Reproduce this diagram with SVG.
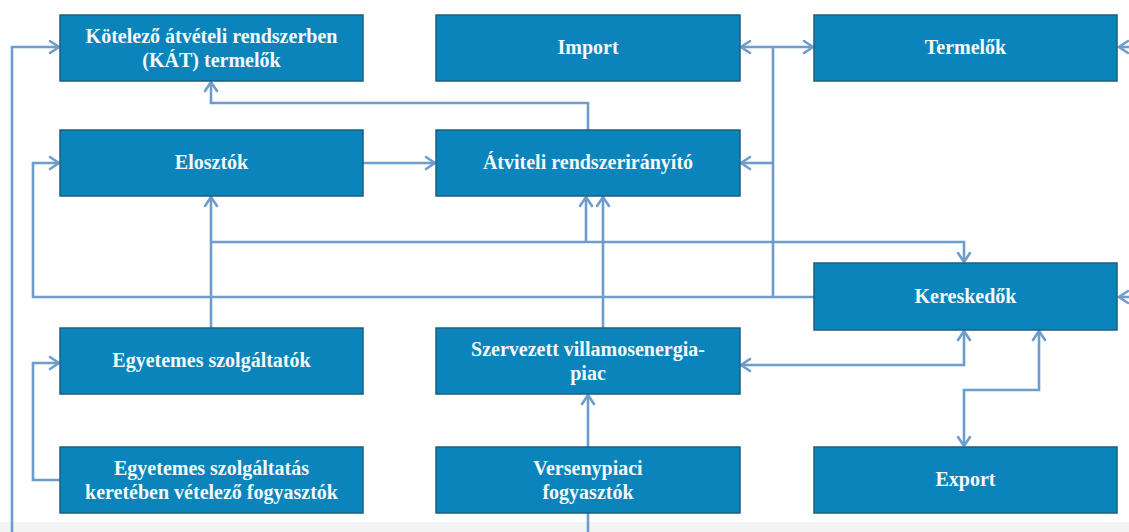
<svg xmlns="http://www.w3.org/2000/svg" width="1129" height="532" viewBox="0 0 1129 532">
<defs>
<marker id="ah" markerUnits="userSpaceOnUse" markerWidth="14" markerHeight="16" viewBox="-1 -1 14 16" refX="10" refY="7" orient="auto-start-reverse">
<path d="M1,1 L10,7 L1,13" fill="none" stroke="#6e9ccb" stroke-width="2.6" stroke-linecap="round" stroke-linejoin="miter"/>
</marker>
<style>
.box{fill:#0a84bb;stroke:#1d5e80;stroke-width:1.5}
.t{font-family:"Liberation Serif","DejaVu Serif",serif;font-weight:bold;font-size:20px;fill:#f4f8fb;text-anchor:middle}
.c{fill:none;stroke:#6e9ccb;stroke-width:2.6}
.a{marker-end:url(#ah)}
.b{marker-start:url(#ah);marker-end:url(#ah)}
</style>
</defs>
<rect x="0" y="0" width="1129" height="532" fill="#ffffff"/>
<rect x="0" y="522" width="1129" height="10" fill="#f4f4f4"/>
<g id="connectors">
<path class="c a" d="M12,532 V47 H59"/>
<path class="c a" d="M814,297 H33 V163 H59"/>
<path class="c a" d="M588,130 V103 H211 V82"/>
<path class="c a" d="M363,163 H435"/>
<path class="c a" d="M211,328 V197"/>
<path class="c a" d="M211,242 H964 V262"/>
<path class="c a" d="M586,242 V197"/>
<path class="c a" d="M603,328 V197"/>
<path class="c b" d="M741,47 H813"/>
<path class="c" d="M773,47 V297"/>
<path class="c a" d="M773,163 H741"/>
<path class="c a" d="M1129,47 H1119"/>
<path class="c a" d="M1129,297 H1119"/>
<path class="c b" d="M741,365 H964 V331"/>
<path class="c b" d="M1039,331 V390 H964 V446"/>
<path class="c a" d="M588,447 V395"/>
<path class="c" d="M588,513 V532"/>
<path class="c a" d="M60,480 H33 V363 H59"/>
</g>
<g id="kat"><rect class="box" x="60" y="15" width="303" height="66"/><text class="t" x="211.5" y="43">Kötelező átvételi rendszerben</text><text class="t" x="211.5" y="67">(KÁT) termelők</text></g>
<g id="import"><rect class="box" x="436" y="15" width="304" height="66"/><text class="t" x="588" y="54">Import</text></g>
<g id="termelok"><rect class="box" x="814" y="15" width="303" height="66"/><text class="t" x="965.5" y="54">Termelők</text></g>
<g id="elosztok"><rect class="box" x="60" y="130" width="303" height="66"/><text class="t" x="211.5" y="169">Elosztók</text></g>
<g id="atviteli"><rect class="box" x="436" y="130" width="304" height="66"/><text class="t" x="588" y="169">Átviteli rendszerirányító</text></g>
<g id="kereskedok"><rect class="box" x="814" y="263" width="303" height="67"/><text class="t" x="965.5" y="303">Kereskedők</text></g>
<g id="egyszolg"><rect class="box" x="60" y="328" width="303" height="66"/><text class="t" x="211.5" y="367">Egyetemes szolgáltatók</text></g>
<g id="szervezett"><rect class="box" x="436" y="328" width="304" height="66"/><text class="t" x="588" y="356">Szervezett villamosenergia-</text><text class="t" x="588" y="380">piac</text></g>
<g id="egyfogy"><rect class="box" x="60" y="447" width="303" height="66"/><text class="t" x="211.5" y="475">Egyetemes szolgáltatás</text><text class="t" x="211.5" y="499">keretében vételező fogyasztók</text></g>
<g id="versenypiaci"><rect class="box" x="436" y="447" width="304" height="66"/><text class="t" x="588" y="475">Versenypiaci</text><text class="t" x="588" y="499">fogyasztók</text></g>
<g id="export"><rect class="box" x="814" y="447" width="303" height="66"/><text class="t" x="965.5" y="486">Export</text></g>
</svg>
